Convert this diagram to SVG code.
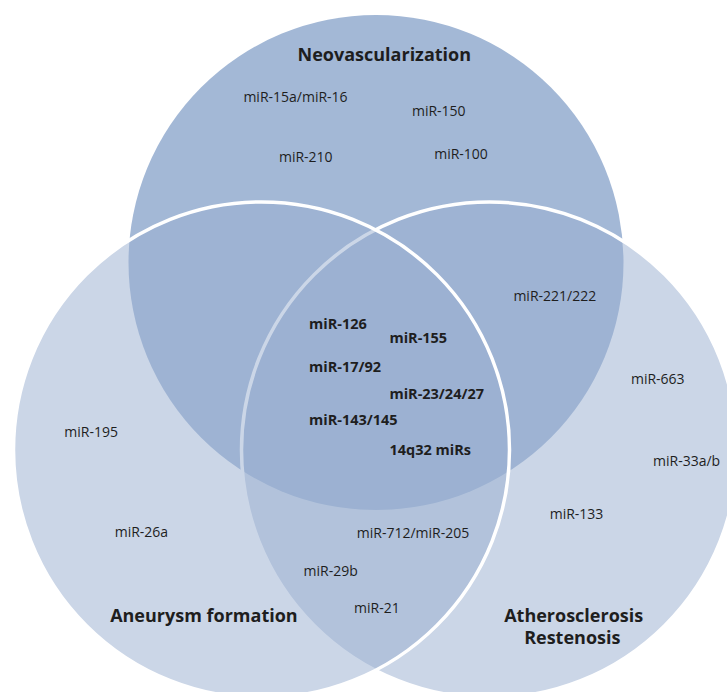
<svg xmlns="http://www.w3.org/2000/svg" width="727" height="692" viewBox="0 0 727 692">
  <style>
    text { font-family: "Open Sans", "Noto Sans", "DejaVu Sans", sans-serif; fill: #1e1e1e; }
    .lbl { font-size: 14px; }
    .core { font-size: 14.5px; font-weight: bold; }
    .title { font-size: 18px; font-weight: bold; }
    .mid { text-anchor: middle; }
    .set { fill: #9aafd0; fill-opacity: 0.515; stroke: #ffffff; stroke-width: 3.5; }
  </style>
  <rect width="727" height="692" fill="#ffffff"/>
  <g id="neovascularization">
    <circle cx="376" cy="262.5" r="247.5" fill="#a3b8d6"/>
    <text class="title mid" x="384.3" y="61">Neovascularization</text>
  </g>
  <g id="atherosclerosis">
    <circle class="set" cx="489.5" cy="450" r="248"/>
    <text class="title mid" x="573.7" y="622">Atherosclerosis</text>
    <text class="title mid" x="572.3" y="644.3">Restenosis</text>
  </g>
  <g id="aneurysm">
    <circle class="set" cx="261.5" cy="450" r="248"/>
    <text class="title mid" x="203.9" y="622">Aneurysm formation</text>
  </g>
  <g id="connectors"/>
  <g id="labels">
    <text class="lbl mid" x="295.5" y="101.5">miR-15a/miR-16</text>
    <text class="lbl mid" x="438.8" y="115.6">miR-150</text>
    <text class="lbl mid" x="305.8" y="162">miR-210</text>
    <text class="lbl mid" x="461" y="159">miR-100</text>
    <text class="lbl mid" x="554.8" y="301">miR-221/222</text>
    <text class="lbl mid" x="657.8" y="384.2">miR-663</text>
    <text class="lbl mid" x="91.2" y="437.3">miR-195</text>
    <text class="lbl mid" x="686.6" y="465.6">miR-33a/b</text>
    <text class="lbl mid" x="576.5" y="519.4">miR-133</text>
    <text class="lbl mid" x="141.4" y="536.6">miR-26a</text>
    <text class="lbl mid" x="413" y="537.5">miR-712/miR-205</text>
    <text class="lbl mid" x="330.7" y="575.5">miR-29b</text>
    <text class="lbl mid" x="376.9" y="613.4">miR-21</text>
    <text class="core" x="309" y="329">miR-126</text>
    <text class="core" x="389.4" y="343">miR-155</text>
    <text class="core" x="309" y="371.6">miR-17/92</text>
    <text class="core" x="389.4" y="398.5">miR-23/24/27</text>
    <text class="core" x="309" y="424.5">miR-143/145</text>
    <text class="core" x="389.4" y="455.4">14q32 miRs</text>
  </g>
</svg>
